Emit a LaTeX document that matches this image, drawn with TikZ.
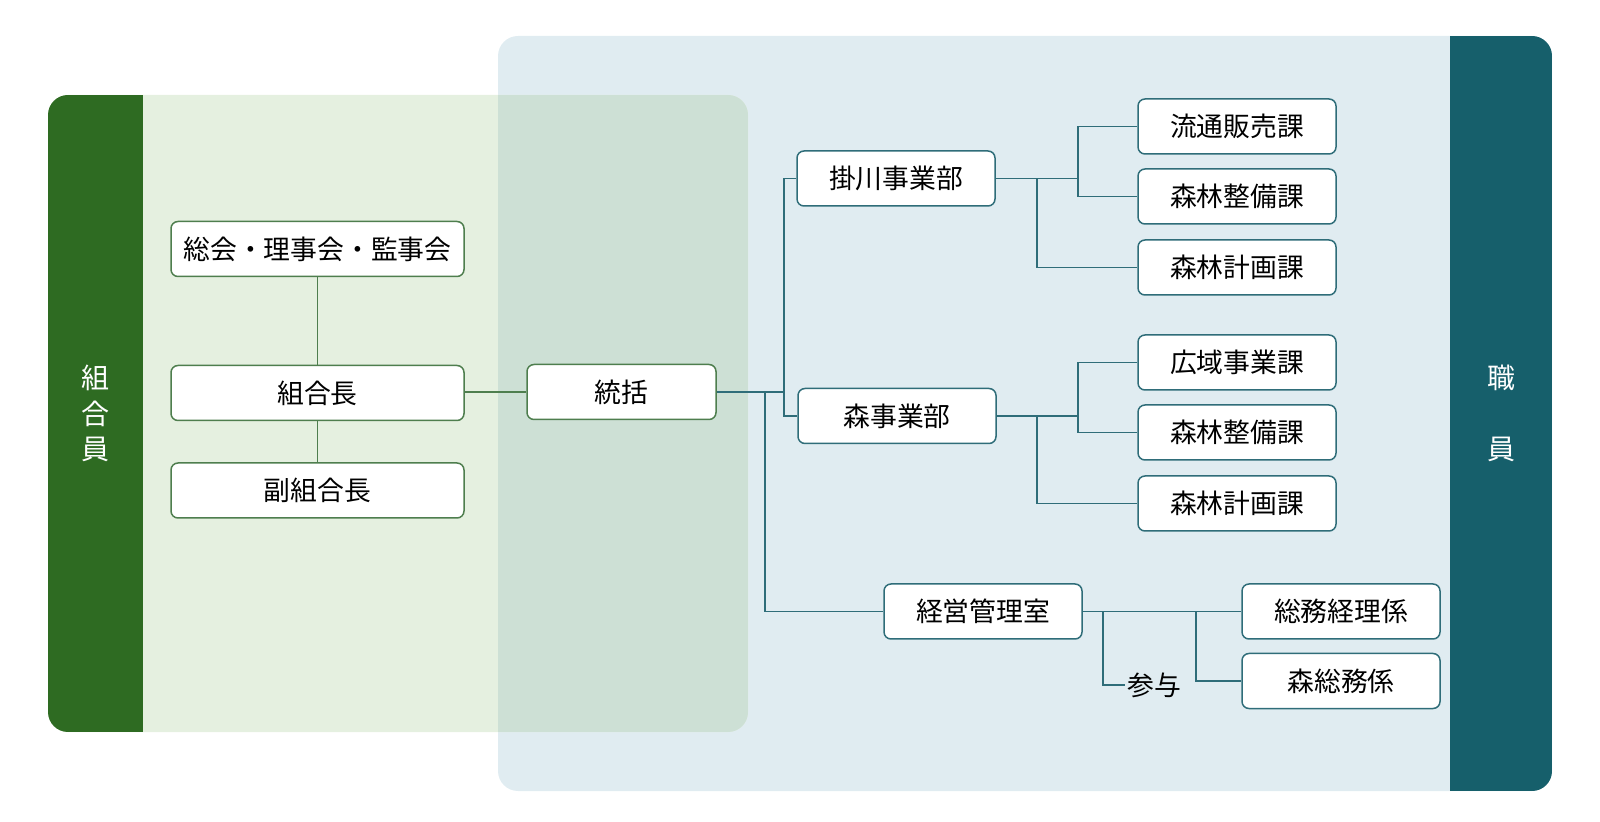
\documentclass[tikz,border=0pt]{standalone}
\usepackage{fontspec}
\setmainfont{Noto Sans CJK JP}
\definecolor{dgreen}{HTML}{2E6B22}
\definecolor{lgreen}{HTML}{E5F0E0}
\definecolor{lblue}{HTML}{E0ECF1}
\definecolor{ovl}{HTML}{CDE0D5}
\definecolor{mteal}{HTML}{165F6B}
\definecolor{gline}{HTML}{4E7E4E}
\definecolor{tline}{HTML}{2F6D79}
\begin{document}
\begin{tikzpicture}[x=0.5pt,y=-0.5pt,
  boxbase/.style={fill=white, rounded corners=3.5pt, line width=0.75pt, minimum height=27.5pt, inner sep=0pt, font=\fontsize{13.4}{15}\selectfont},
  gbox/.style={boxbase, draw=gline},
  tbox/.style={boxbase, draw=tline},
  gconn/.style={draw=gline, line width=0.75pt},
  tconn/.style={draw=tline, line width=0.75pt},
  bandtext/.style={text=white, align=center, font=\fontsize{14}{17.75}\selectfont}]
\useasboundingbox (0,0) rectangle (1600,822);
% panels
\fill[lblue, rounded corners=10pt] (498,36) rectangle (1552,791);
\begin{scope}
  \clip[rounded corners=10pt] (498,36) rectangle (1552,791);
  \fill[mteal] (1450,36) rectangle (1552,791);
\end{scope}
\fill[lgreen, rounded corners=10pt] (48,95) rectangle (748,732);
\begin{scope}
  \clip[rounded corners=10pt] (48,95) rectangle (748,732);
  \fill[dgreen] (48,95) rectangle (143,732);
  \fill[ovl] (498,95) rectangle (748,732);
\end{scope}
\node[bandtext] (kumiaiin) at (95.5,413.5) {組\\合\\員};
\node[bandtext] (shokuin) at (1501,413.5) {職\\[18pt]員};
% left nodes
\node[gbox, minimum width=146.5pt] (soukai) at (317.5,249) {総会・理事会・監事会};
\node[gbox, minimum width=146.5pt] (kumiaichou) at (317.5,393) {組合長};
\node[gbox, minimum width=146.5pt] (fuku) at (317.5,490.5) {副組合長};
\node[gbox, minimum width=94.5pt] (toukatsu) at (621.5,392) {統括};
% right nodes
\node[tbox, minimum width=99pt] (kakegawa) at (896,178.5) {掛川事業部};
\node[tbox, minimum width=99pt] (ryutsu) at (1237,126.5) {流通販売課};
\node[tbox, minimum width=99pt] (seibiA) at (1237,196.5) {森林整備課};
\node[tbox, minimum width=99pt] (keikakuA) at (1237,267.5) {森林計画課};
\node[tbox, minimum width=99pt] (mori) at (897,416) {森事業部};
\node[tbox, minimum width=99pt] (kouiki) at (1237,362.5) {広域事業課};
\node[tbox, minimum width=99pt] (seibiB) at (1237,432.5) {森林整備課};
\node[tbox, minimum width=99pt] (keikakuB) at (1237,503.5) {森林計画課};
\node[tbox, minimum width=99pt] (keiei) at (983,611.5) {経営管理室};
\node[tbox, minimum width=99pt] (soumu) at (1341,611.5) {総務経理係};
\node[tbox, minimum width=99pt] (morisoumu) at (1341,681) {森総務係};
\node[inner sep=1pt, font=\fontsize{13.4}{15}\selectfont] (sanyo) at (1154,685) {参与};
% helper x positions
\coordinate (trunk) at (784,0);
\coordinate (branch) at (765,0);
\coordinate (bA) at (1037,0);
\coordinate (bB) at (1078,0);
\coordinate (cA) at (1103,0);
\coordinate (cB) at (1196,0);
% green connectors
\draw[gconn] (soukai) -- (kumiaichou);
\draw[gconn] (kumiaichou) -- (fuku);
\draw[gconn] (toukatsu.west) -- (toukatsu.west -| kumiaichou.east);
% teal connectors
\draw[tconn] (toukatsu.east) -- (toukatsu.east -| trunk);
\draw[tconn] (kakegawa.west) -| (trunk |- mori.west) -- (mori.west);
\draw[tconn] (toukatsu.east -| branch) |- (keiei.west);
\draw[tconn] (kakegawa.east) -- (kakegawa.east -| bB);
\draw[tconn] (ryutsu.west) -| (bB |- seibiA.west) -- (seibiA.west);
\draw[tconn] (kakegawa.east -| bA) |- (keikakuA.west);
\draw[tconn] (mori.east) -- (mori.east -| bB);
\draw[tconn] (kouiki.west) -| (bB |- seibiB.west) -- (seibiB.west);
\draw[tconn] (mori.east -| bA) |- (keikakuB.west);
\draw[tconn] (keiei.east) -- (soumu.west);
\draw[tconn] (keiei.east -| cA) |- (sanyo.west);
\draw[tconn] (keiei.east -| cB) |- (morisoumu.west);
\end{tikzpicture}
\end{document}
